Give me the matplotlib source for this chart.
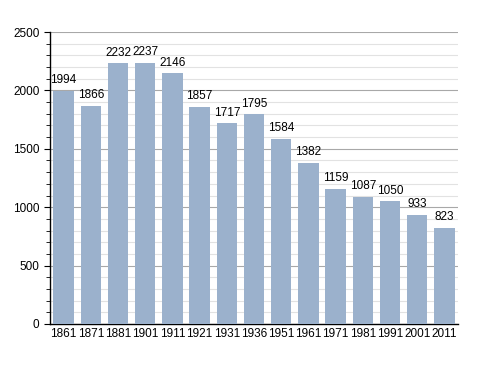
import matplotlib
matplotlib.use("Agg")
from matplotlib import pyplot as plt
from matplotlib.ticker import MultipleLocator

years = ["1861", "1871", "1881", "1901", "1911", "1921", "1931", "1936",
         "1951", "1961", "1971", "1981", "1991", "2001", "2011"]
population = [1994, 1866, 2232, 2237, 2146, 1857, 1717, 1795,
              1584, 1382, 1159, 1087, 1050, 933, 823]

plt.rcParams['font.family'] = ['Liberation Sans', 'DejaVu Sans']

fig = plt.figure(figsize=(4.88, 3.73), dpi=100)
ax = fig.add_axes([0.1025, 0.1314, 0.836, 0.7828])

x = list(range(len(years)))
ax.bar(x, population, width=0.75, color="#9bb1cc", zorder=3)
for i, v in enumerate(population):
    ax.text(i, v + 40, str(v), ha="center", va="bottom", fontsize=8.5, zorder=4)

ax.set_xlim(-0.5, len(years) - 0.5)
ax.set_ylim(0, 2500)
ax.set_xticks(x)
ax.set_xticklabels(years, fontsize=8.5)
ax.yaxis.set_major_locator(MultipleLocator(500))
ax.yaxis.set_minor_locator(MultipleLocator(100))
ax.tick_params(axis="y", labelsize=8.5, length=4)
ax.tick_params(axis="y", which="minor", length=3)
ax.tick_params(axis="x", length=0, pad=3)
ax.grid(axis="y", which="major", color="#a8a8a8", linewidth=0.8, zorder=0)
ax.grid(axis="y", which="minor", color="#e2e2e2", linewidth=0.8, zorder=0)
for s in ["top", "right"]:
    ax.spines[s].set_visible(False)
ax.spines["left"].set_linewidth(1)
ax.spines["bottom"].set_linewidth(1)

fig.savefig("out.png", dpi=100)
